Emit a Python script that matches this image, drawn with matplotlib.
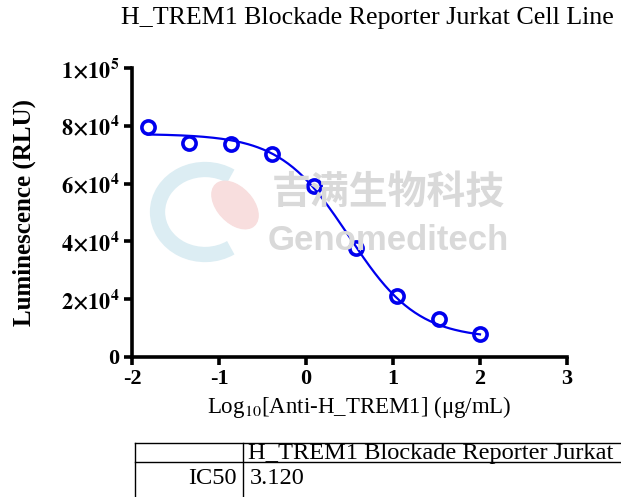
import numpy as np
import matplotlib
matplotlib.use("Agg")
import matplotlib.pyplot as plt
from matplotlib.lines import Line2D
from matplotlib.patches import Arc, Ellipse

plt.rcParams['font.family'] = ['Liberation Serif', 'DejaVu Serif']
plt.rcParams['mathtext.fontset'] = 'stix'

# data
log_conc = [-1.817, -1.340, -0.863, -0.386, 0.092, 0.569, 1.046, 1.523, 2.000]
lum = [79700, 74200, 73600, 70200, 59200, 37600, 21200, 13000, 7900]

# 4PL fit parameters
top, bottom, ic50, hill = 77200, 6300, 3.120, 1.1

xticks = [-2, -1, 0, 1, 2, 3]
yticks = [0, 20000, 40000, 60000, 80000, 100000]
ylabels = ['0', r'$\mathbf{2{\times}10^4}$', r'$\mathbf{4{\times}10^4}$',
           r'$\mathbf{6{\times}10^4}$', r'$\mathbf{8{\times}10^4}$',
           r'$\mathbf{1{\times}10^5}$']

W, H = 621, 497
fig = plt.figure(figsize=(W / 100, H / 100), dpi=100)
ax = fig.add_axes([132 / W, 1 - 357 / H, (567 - 132) / W, (357 - 68) / H])

def fx(p): return p / W
def fy(p): return 1 - p / H

# watermark logo + text
fig.add_artist(Arc((fx(205), fy(212)), fx(95) - fx(0), fy(0) - fy(85), theta1=60, theta2=300,
                   lw=11, color='#dcedf3', zorder=0))
fig.add_artist(Ellipse((fx(235), fy(205)), fx(38) - fx(0), fy(0) - fy(52), angle=30,
                       color='#f8dede', zorder=0))
fig.text(fx(388), fy(192), '吉满生物科技', family=['Noto Sans CJK SC'],
         fontsize=28, fontweight='bold', color='#d9d9d9', ha='center', va='center', zorder=0)
fig.text(fx(388), fy(240), 'Genomeditech', family=['Liberation Sans'],
         fontsize=25, fontweight='bold', color='#d9d9d9', ha='center', va='center', zorder=0)

xs = np.linspace(log_conc[0], log_conc[-1], 200)
fit = bottom + (top - bottom) / (1 + 10 ** ((xs - np.log10(ic50)) * hill))
ax.plot(xs, fit, color='#0000ee', lw=1.6, zorder=3)
ax.plot(log_conc, lum, 'o', mfc='none', mec='#0000ee', mew=2.6, ms=9.5, zorder=4,
        clip_on=False)

ax.set_xlim(-2, 3)
ax.set_ylim(0, 100000)
ax.set_xticks(xticks)
ax.set_xticklabels([str(t) for t in xticks], fontweight='bold', fontsize=16)
ax.set_yticks(yticks)
ax.set_yticklabels(ylabels, fontweight='bold', fontsize=16)
for s in ['top', 'right']:
    ax.spines[s].set_visible(False)
for s in ['left', 'bottom']:
    ax.spines[s].set_linewidth(2.6)
ax.tick_params(width=2.6, length=6, direction='out', pad=3)
ax.patch.set_alpha(0)

ax.set_ylabel('Luminescence (RLU)', fontsize=18, fontweight='bold', labelpad=18)
ax.set_xlabel(r'Log$_{10}$[Anti-H_TREM1] (μg/mL)', fontsize=16.5, labelpad=0)
ax.xaxis.set_label_coords(0.523, -0.128)
fig.text(fx(0.5 * (122 + 613)), fy(18), 'H_TREM1 Blockade Reporter Jurkat Cell Line',
         fontsize=18.7, ha='center', va='center')

# result table
lk = dict(color='black', lw=1.0)
fig.add_artist(Line2D([fx(135), fx(621)], [fy(443), fy(443)], **lk))
fig.add_artist(Line2D([fx(135), fx(621)], [fy(462), fy(462)], **lk))
fig.add_artist(Line2D([fx(135), fx(135)], [fy(443), fy(497)], **lk))
fig.add_artist(Line2D([fx(243), fx(243)], [fy(443), fy(497)], **lk))
fig.text(fx(248), fy(454), 'H_TREM1 Blockade Reporter Jurkat', fontsize=17.6, va='center')
fig.text(fx(237), fy(478), 'IC50', fontsize=17.6, va='center', ha='right')
fig.text(fx(250), fy(478), f'{ic50:.3f}', fontsize=17.6, va='center')

fig.savefig('out.png', dpi=100)
